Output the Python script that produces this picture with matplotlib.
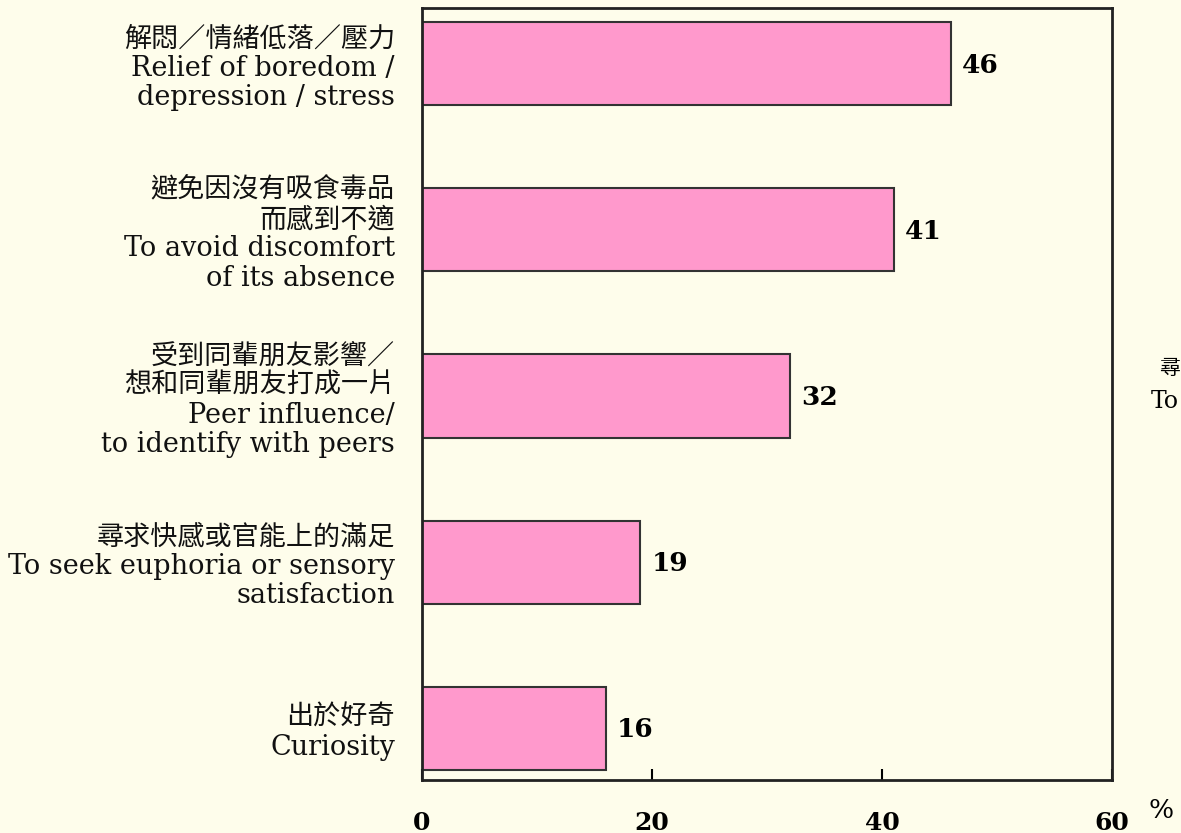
import matplotlib.pyplot as plt

plt.rcParams['font.family'] = ['DejaVu Serif', 'Noto Sans CJK TC']

# 吸食毒品的原因 (%)
labels = [
    "解悶／情緒低落／壓力\nRelief of boredom /\ndepression / stress",
    "避免因沒有吸食毒品\n而感到不適\nTo avoid discomfort\nof its absence",
    "受到同輩朋友影響／\n想和同輩朋友打成一片\nPeer influence/\nto identify with peers",
    "尋求快感或官能上的滿足\nTo seek euphoria or sensory\nsatisfaction",
    "出於好奇\nCuriosity",
]
values = [46, 41, 32, 19, 16]
xticks = [0, 20, 40, 60]

bg = '#FEFDEB'
fig = plt.figure(figsize=(11.81, 8.33), dpi=100, facecolor=bg)
ax = fig.add_axes([0.3573, 0.0636, 0.5843, 0.9268], facecolor=bg)

pos = list(range(len(values)))
ax.barh(pos, values, height=0.5, color='#FF99CC', edgecolor='#333333', linewidth=1.5)
ax.set_ylim(4.313, -0.337)
ax.set_xlim(0, 60)

for p, v in zip(pos, values):
    ax.text(v + 0.95, p + 0.01, str(v), va='center', ha='left', fontsize=19,
            fontweight='bold')

ax.set_yticks(pos)
ax.set_yticklabels(labels, fontsize=19.5, linespacing=1.12, multialignment='right',
                   color='#111111')
ax.tick_params(axis='y', length=0, pad=19.5)

ax.set_xticks(xticks)
ax.set_xticklabels([str(t) for t in xticks], fontsize=18, fontweight='bold')
ax.tick_params(axis='x', direction='in', length=8, width=1.5, pad=22)

for s in ax.spines.values():
    s.set_linewidth(2)
    s.set_color('#222222')

fig.text(1148 / 1181, 1 - 810 / 833, "%", fontsize=19, ha='left', va='center')

# 右側被裁掉的另一圖標籤
fig.text(1159 / 1181, 1 - 368 / 833, "尋", fontsize=15, ha='left', va='center')
fig.text(1151 / 1181, 1 - 401 / 833, "To", fontsize=17, ha='left', va='center')

fig.savefig("out.png", dpi=100, facecolor=bg)
